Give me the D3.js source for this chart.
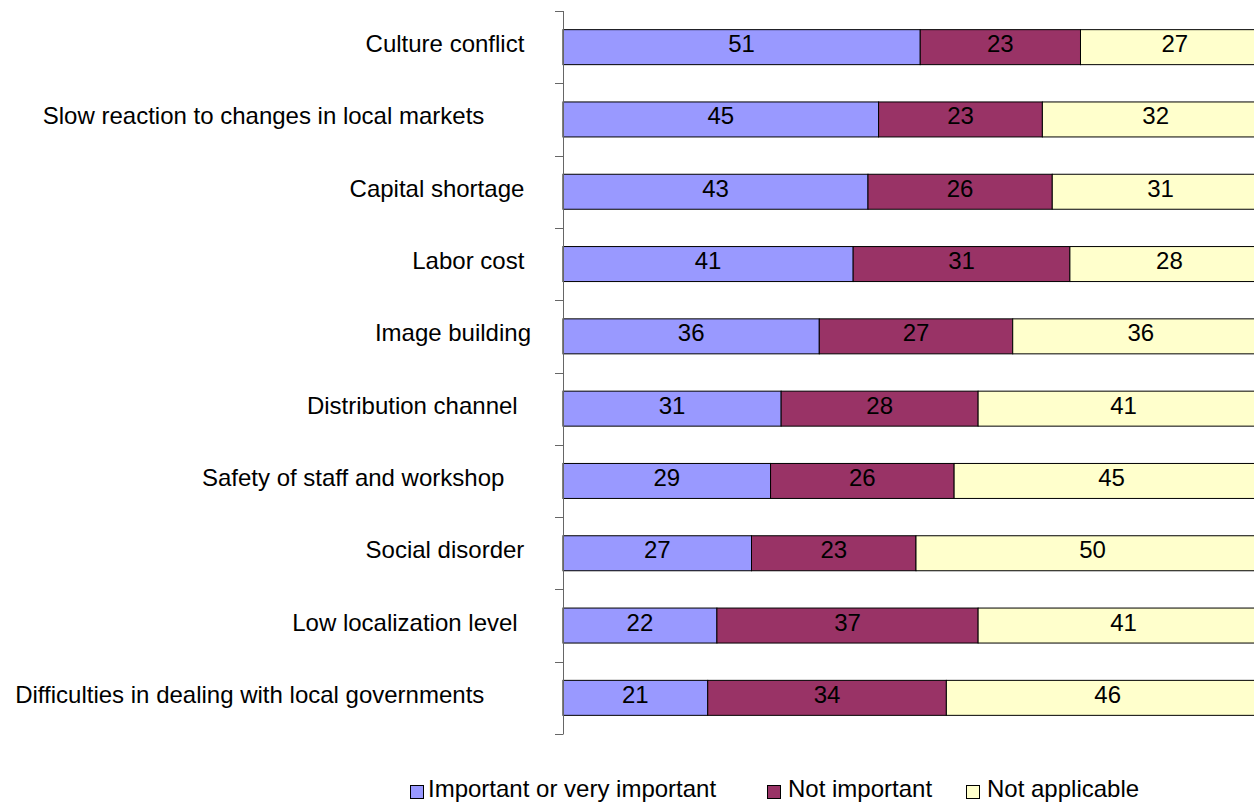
<!DOCTYPE html>
<html>
<head>
<meta charset="utf-8">
<script src="https://cdn.jsdelivr.net/npm/d3@7"></script>
<style>
  body { margin: 0; background: #fff; }
  svg text { font-family: "Liberation Sans", Arial, sans-serif; font-size: 24px; fill: #000; white-space: pre; }
</style>
</head>
<body>
<div id="chart"></div>
<script>
// category names keep the trailing spaces the source sheet had
var categories = [
  "Culture conflict ",
  "Slow reaction to changes in local markets       ",
  "Capital shortage ",
  "Labor cost ",
  "Image building",
  "Distribution channel  ",
  "Safety of staff and workshop    ",
  "Social disorder ",
  "Low localization level  ",
  "Difficulties in dealing with local governments       "
]
var important     = [50.6, 44.7, 43.2, 41.1, 36.3, 30.9, 29.4, 26.7, 21.8, 20.5]
var notImportant  = [22.7, 23.2, 26.1, 30.7, 27.4, 27.9, 26.0, 23.3, 37.0, 33.8]
var notApplicable = [26.7, 32.1, 30.7, 28.2, 36.3, 41.2, 44.6, 50.0, 41.2, 45.7]
var seriesNames   = ["Important or very important", "Not important", "Not applicable"]
var seriesColors  = ["#9999ff", "#993366", "#ffffcc"]

var W = 1254, H = 804

var rows = categories.map(function (c, i) {
  return { cat: c, s0: important[i], s1: notImportant[i], s2: notApplicable[i] }
})
var keys = ["s0", "s1", "s2"]
var stacked = d3.stack().keys(keys)(rows)

var x = d3.scaleLinear().domain([0, 100]).range([563, 1269])
var y = d3.scaleBand()
          .domain(categories)
          .range([11, 734])
          .paddingInner(0.516)
          .paddingOuter(0.258)

var svg = d3.select("#chart").append("svg")
            .attr("width", W)
            .attr("height", H)

// bars
var layer = svg.selectAll("g.layer")
  .data(stacked)
  .enter().append("g")
  .attr("class", "layer")
  .attr("fill", function (d, i) { return seriesColors[i] })

layer.selectAll("rect")
  .data(function (d) { return d })
  .enter().append("rect")
  .attr("x", function (d) { return x(d[0]) })
  .attr("y", function (d) { return y(d.data.cat) })
  .attr("width", function (d) { return x(d[1]) - x(d[0]) })
  .attr("height", y.bandwidth())
  .attr("stroke", "#000")
  .attr("stroke-width", 1)

// value labels
layer.selectAll("text")
  .data(function (d) { return d })
  .enter().append("text")
  .attr("text-anchor", "middle")
  .attr("x", function (d) { return (x(d[0]) + x(d[1])) / 2 })
  .attr("y", function (d) { return y(d.data.cat) + y.bandwidth() / 2 + 5 })
  .text(function (d) { return Math.round(d[1] - d[0]) })

// category axis: line plus ticks on the band edges
var ax = svg.append("g").attr("stroke", "#666").attr("stroke-width", 1)
ax.append("line")
  .attr("x1", 563.5).attr("x2", 563.5)
  .attr("y1", y.range()[0]).attr("y2", y.range()[1])
var edges = categories.map(function (c) { return y(c) - y.step() * y.paddingInner() / 2 })
edges.push(y.range()[1])
ax.selectAll("line.tick")
  .data(edges)
  .enter().append("line")
  .attr("class", "tick")
  .attr("x1", 555).attr("x2", 563.5)
  .attr("y1", function (d) { return Math.round(d) + 0.5 })
  .attr("y2", function (d) { return Math.round(d) + 0.5 })

svg.append("g").selectAll("text")
  .data(categories)
  .enter().append("text")
  .attr("text-anchor", "end")
  .attr("x", 531)
  .attr("y", function (d) { return y(d) + y.bandwidth() / 2 + 5 })
  .text(function (d) { return d })

// legend
var legendX = [410, 767, 966]
var lg = svg.append("g").selectAll("g")
  .data(seriesNames)
  .enter().append("g")
  .attr("transform", function (d, i) { return "translate(" + legendX[i] + ",0)" })
lg.append("rect")
  .attr("x", 0.5).attr("y", 785.5)
  .attr("width", 13).attr("height", 13)
  .attr("fill", function (d, i) { return seriesColors[i] })
  .attr("stroke", "#000")
lg.append("text")
  .attr("x", function (d, i) { return i == 0 ? 18 : 21 })
  .attr("y", 797)
  .text(function (d) { return d })
</script>
</body>
</html>
